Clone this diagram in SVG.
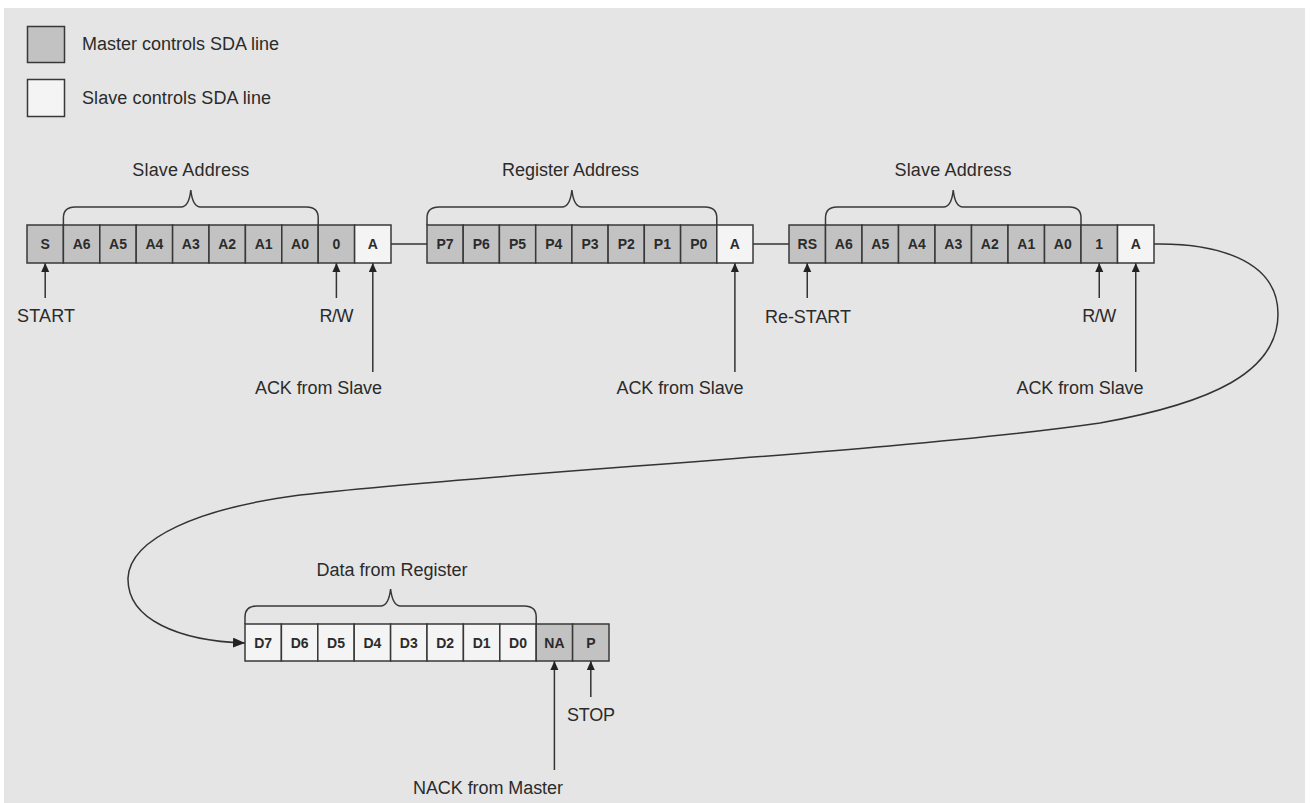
<svg xmlns="http://www.w3.org/2000/svg" width="1311" height="803" viewBox="0 0 1311 803">
<style>
.bg{fill:#e5e5e5}
.m{fill:#c2c2c2;stroke:#383838;stroke-width:1.5}
.s{fill:#f4f4f4;stroke:#383838;stroke-width:1.5}
.c{font-family:"Liberation Sans",Arial,sans-serif;font-size:14px;font-weight:bold;fill:#2b2b2b;text-anchor:middle}
.t{font-family:"Liberation Sans",Arial,sans-serif;font-size:18px;fill:#2b2b2b}
.mid{text-anchor:middle}
.br{fill:none;stroke:#383838;stroke-width:1.5}
.ln{fill:none;stroke:#333;stroke-width:1.5}
</style>
<defs>
<marker id="ah" markerUnits="userSpaceOnUse" markerWidth="8" markerHeight="10" refX="9" refY="4" orient="auto"><path d="M0,0 L9,4 L0,8 z" fill="#222"/></marker>
<marker id="ahb" markerUnits="userSpaceOnUse" markerWidth="13" markerHeight="11" refX="12" refY="5" orient="auto"><path d="M0,0 L12,5 L0,10 z" fill="#222"/></marker>
</defs>
<rect width="1311" height="803" fill="#ffffff"/>
<rect class="bg" x="4" y="8" width="1301" height="795"/>

<g id="legend">
<rect class="m" x="27.5" y="26.5" width="37" height="36"/>
<text class="t" x="82" y="50" textLength="197">Master controls SDA line</text>
<rect class="s" x="27.5" y="79.5" width="37" height="37"/>
<text class="t" x="82" y="104" textLength="189">Slave controls SDA line</text>
</g>

<g id="seg-slave-address-write">
<path class="br" d="M63.4 225 V218 Q63.4 207 75 207 H181 Q189 207 190.8 190 Q192.6 207 200.6 207 H306.6 Q318.2 207 318.2 218 V225"/>
<text class="t mid" x="190.8" y="176" textLength="117">Slave Address</text>
<rect class="m" x="27" y="225" width="36.4" height="38"/>
<rect class="m" x="63.4" y="225" width="36.4" height="38"/>
<rect class="m" x="99.8" y="225" width="36.4" height="38"/>
<rect class="m" x="136.2" y="225" width="36.4" height="38"/>
<rect class="m" x="172.6" y="225" width="36.4" height="38"/>
<rect class="m" x="209" y="225" width="36.4" height="38"/>
<rect class="m" x="245.4" y="225" width="36.4" height="38"/>
<rect class="m" x="281.8" y="225" width="36.4" height="38"/>
<rect class="m" x="318.2" y="225" width="36.4" height="38"/>
<rect class="s" x="354.6" y="225" width="36.4" height="38"/>
<text class="c" x="45.2" y="249">S</text>
<text class="c" x="81.6" y="249">A6</text>
<text class="c" x="118" y="249">A5</text>
<text class="c" x="154.4" y="249">A4</text>
<text class="c" x="190.8" y="249">A3</text>
<text class="c" x="227.2" y="249">A2</text>
<text class="c" x="263.6" y="249">A1</text>
<text class="c" x="300" y="249">A0</text>
<text class="c" x="336.4" y="249">0</text>
<text class="c" x="372.8" y="249">A</text>
<text class="t mid" x="46" y="322" textLength="58">START</text>
<text class="t mid" x="336.4" y="322" textLength="34">R/W</text>
<text class="t mid" x="318.5" y="394" textLength="127">ACK from Slave</text>
</g>

<g id="seg-register-address">
<path class="br" d="M427 225 V218 Q427 207 439 207 H562 Q570 207 571.9 190 Q573.8 207 581.8 207 H705 Q716.8 207 716.8 218 V225"/>
<text class="t mid" x="570.5" y="176" textLength="137">Register Address</text>
<rect class="m" x="427" y="225" width="36.2" height="38"/>
<rect class="m" x="463.2" y="225" width="36.2" height="38"/>
<rect class="m" x="499.4" y="225" width="36.3" height="38"/>
<rect class="m" x="535.7" y="225" width="36.2" height="38"/>
<rect class="m" x="571.9" y="225" width="36.2" height="38"/>
<rect class="m" x="608.1" y="225" width="36.2" height="38"/>
<rect class="m" x="644.3" y="225" width="36.3" height="38"/>
<rect class="m" x="680.6" y="225" width="36.2" height="38"/>
<rect class="s" x="716.8" y="225" width="36.2" height="38"/>
<text class="c" x="445.1" y="249">P7</text>
<text class="c" x="481.3" y="249">P6</text>
<text class="c" x="517.6" y="249">P5</text>
<text class="c" x="553.8" y="249">P4</text>
<text class="c" x="590" y="249">P3</text>
<text class="c" x="626.2" y="249">P2</text>
<text class="c" x="662.4" y="249">P1</text>
<text class="c" x="698.7" y="249">P0</text>
<text class="c" x="734.9" y="249">A</text>
<text class="t mid" x="680" y="394" textLength="127">ACK from Slave</text>
</g>

<g id="seg-slave-address-read">
<path class="br" d="M825.5 225 V218 Q825.5 207 837 207 H943.5 Q951.5 207 953.25 190 Q955 207 963 207 H1069.5 Q1081 207 1081 218 V225"/>
<text class="t mid" x="953" y="176" textLength="117">Slave Address</text>
<rect class="m" x="789" y="225" width="36.5" height="38"/>
<rect class="m" x="825.5" y="225" width="36.5" height="38"/>
<rect class="m" x="862" y="225" width="36.5" height="38"/>
<rect class="m" x="898.5" y="225" width="36.5" height="38"/>
<rect class="m" x="935" y="225" width="36.5" height="38"/>
<rect class="m" x="971.5" y="225" width="36.5" height="38"/>
<rect class="m" x="1008" y="225" width="36.5" height="38"/>
<rect class="m" x="1044.5" y="225" width="36.5" height="38"/>
<rect class="m" x="1081" y="225" width="36.5" height="38"/>
<rect class="s" x="1117.5" y="225" width="36.5" height="38"/>
<text class="c" x="807.25" y="249">RS</text>
<text class="c" x="843.75" y="249">A6</text>
<text class="c" x="880.25" y="249">A5</text>
<text class="c" x="916.75" y="249">A4</text>
<text class="c" x="953.25" y="249">A3</text>
<text class="c" x="989.75" y="249">A2</text>
<text class="c" x="1026.25" y="249">A1</text>
<text class="c" x="1062.75" y="249">A0</text>
<text class="c" x="1099.25" y="249">1</text>
<text class="c" x="1135.75" y="249">A</text>
<text class="t mid" x="808" y="323" textLength="86">Re-START</text>
<text class="t mid" x="1099.25" y="322" textLength="34">R/W</text>
<text class="t mid" x="1080" y="394" textLength="127">ACK from Slave</text>
</g>

<g id="seg-data">
<path class="br" d="M245 624 V617 Q245 606 257 606 H380.6 Q388.6 606 390.6 589 Q392.6 606 400.6 606 H524.2 Q536.2 606 536.2 617 V624"/>
<text class="t mid" x="392" y="576" textLength="151">Data from Register</text>
<rect class="s" x="245" y="624" width="36.4" height="37"/>
<rect class="s" x="281.4" y="624" width="36.4" height="37"/>
<rect class="s" x="317.8" y="624" width="36.4" height="37"/>
<rect class="s" x="354.2" y="624" width="36.4" height="37"/>
<rect class="s" x="390.6" y="624" width="36.4" height="37"/>
<rect class="s" x="427" y="624" width="36.4" height="37"/>
<rect class="s" x="463.4" y="624" width="36.4" height="37"/>
<rect class="s" x="499.8" y="624" width="36.4" height="37"/>
<rect class="m" x="536.2" y="624" width="36.4" height="37"/>
<rect class="m" x="572.6" y="624" width="36.4" height="37"/>
<text class="c" x="263.2" y="647.5">D7</text>
<text class="c" x="299.6" y="647.5">D6</text>
<text class="c" x="336" y="647.5">D5</text>
<text class="c" x="372.4" y="647.5">D4</text>
<text class="c" x="408.8" y="647.5">D3</text>
<text class="c" x="445.2" y="647.5">D2</text>
<text class="c" x="481.6" y="647.5">D1</text>
<text class="c" x="518" y="647.5">D0</text>
<text class="c" x="554.4" y="647.5">NA</text>
<text class="c" x="590.8" y="647.5">P</text>
<text class="t mid" x="591" y="721" textLength="48">STOP</text>
<text class="t mid" x="488" y="794" textLength="150">NACK from Master</text>
</g>

<g id="connectors">
<line class="ln" x1="391" y1="244" x2="427" y2="244"/>
<line class="ln" x1="753" y1="244" x2="789" y2="244"/>
<path class="ln" marker-end="url(#ahb)" d="M1154 244 C1212 243 1278 258 1278 314 C1278 372 1212 403 1100 423 C900 452 500 472 300 495 C200 508 130 538 128 578 C127 620 180 641 245 643"/>
<line class="ln" marker-end="url(#ah)" x1="45.2" y1="298" x2="45.2" y2="263"/>
<line class="ln" marker-end="url(#ah)" x1="336.4" y1="298" x2="336.4" y2="263"/>
<line class="ln" marker-end="url(#ah)" x1="372.8" y1="372" x2="372.8" y2="263"/>
<line class="ln" marker-end="url(#ah)" x1="734.9" y1="372" x2="734.9" y2="263"/>
<line class="ln" marker-end="url(#ah)" x1="807.25" y1="298" x2="807.25" y2="263"/>
<line class="ln" marker-end="url(#ah)" x1="1099.25" y1="298" x2="1099.25" y2="263"/>
<line class="ln" marker-end="url(#ah)" x1="1135.75" y1="372" x2="1135.75" y2="263"/>
<line class="ln" marker-end="url(#ah)" x1="554.4" y1="770" x2="554.4" y2="661"/>
<line class="ln" marker-end="url(#ah)" x1="590.8" y1="697" x2="590.8" y2="661"/>
</g>
</svg>
